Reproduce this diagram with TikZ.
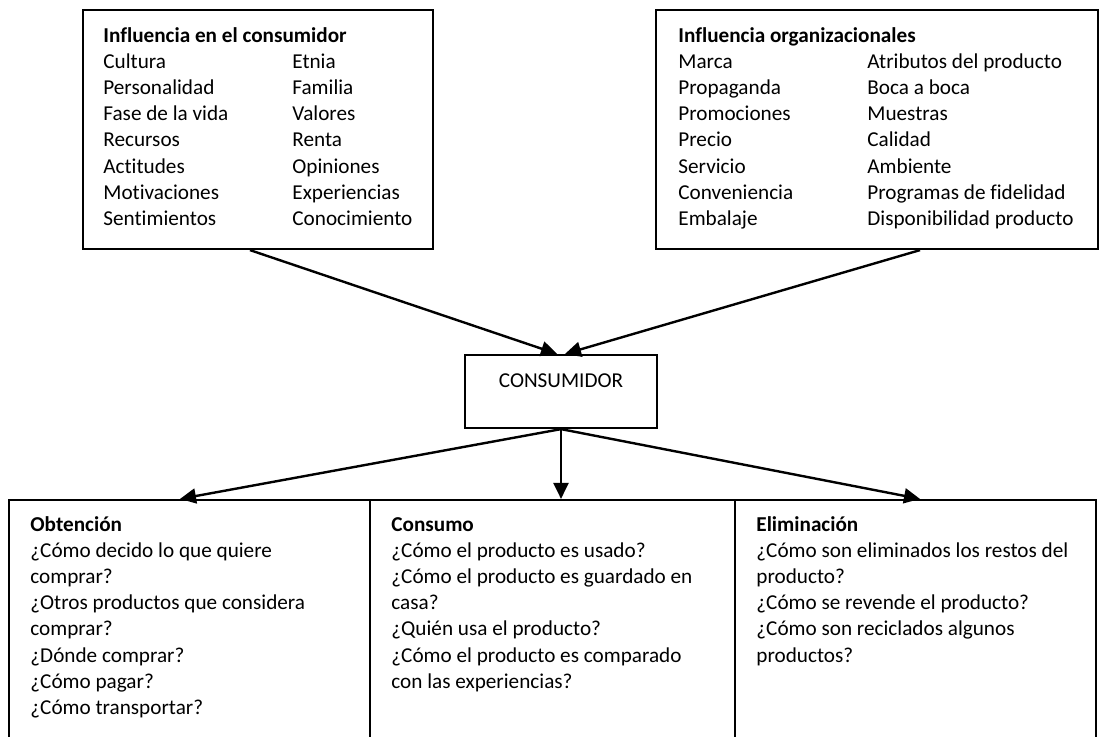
\documentclass[tikz,border=0pt]{standalone}
\usepackage{fontspec}
\setmainfont{Carlito}[RawFeature={-liga}]
\usetikzlibrary{arrows.meta}
\tikzstyle{caja}=[rectangle,draw,line width=1.1pt,inner sep=0pt]
\tikzstyle{linea}=[anchor=base west,inner sep=0pt,font=\fontsize{10.6}{12}\selectfont]
\tikzstyle{titulo}=[linea,font=\fontsize{10.6}{12}\selectfont\bfseries]
\tikzstyle{flecha}=[line width=1.2pt,-{Triangle[length=8pt,width=7.5pt]}]

\begin{document}
\begin{tikzpicture}[x=0.5pt,y=-0.5pt]
	\useasboundingbox (0,0) rectangle (1102,736);

	% cajas superiores
	\node[caja,minimum width=175pt,minimum height=119.5pt] (infcons) at (258,129.5) {};
	\node[caja,minimum width=221pt,minimum height=119.5pt] (inforg) at (877,129.5) {};

	\node[titulo] (tcons) at (103,42) {Influencia en el consumidor};
	\foreach \t [count=\i] in {Cultura,Personalidad,Fase de la vida,Recursos,Actitudes,Motivaciones,Sentimientos}
		\node[linea] (ca\i) at (103,{42+26.2*\i}) {\t};
	\foreach \t [count=\i] in {Etnia,Familia,Valores,Renta,Opiniones,Experiencias,Conocimiento}
		\node[linea] (cb\i) at (292,{42+26.2*\i}) {\t};

	\node[titulo] (torg) at (678,42) {Influencia organizacionales};
	\foreach \t [count=\i] in {Marca,Propaganda,Promociones,Precio,Servicio,Conveniencia,Embalaje}
		\node[linea] (oa\i) at (678,{42+26.2*\i}) {\t};
	\foreach \t [count=\i] in {Atributos del producto,Boca a boca,Muestras,Calidad,Ambiente,Programas de fidelidad,Disponibilidad producto}
		\node[linea] (ob\i) at (867,{42+26.2*\i}) {\t};

	% consumidor
	\node[caja,minimum width=96pt,minimum height=36.5pt] (cons) at (561,391.5) {};
	\node[linea,anchor=base] (tconsumidor) at (561,387) {CONSUMIDOR};

	% cajas inferiores
	\node[caja,minimum width=180.5pt,minimum height=140pt] (obt) at (189.5,640) {};
	\node[caja,minimum width=182.5pt,minimum height=140pt] (consumo) at (552.5,640) {};
	\node[caja,minimum width=180.5pt,minimum height=140pt] (elim) at (915.5,640) {};

	\node[titulo] (tobt) at (30,531) {Obtención};
	\foreach \t [count=\i] in {¿Cómo decido lo que quiere,comprar?,¿Otros productos que considera,comprar?,¿Dónde comprar?,¿Cómo pagar?,¿Cómo transportar?}
		\node[linea] (ob\i) at (30,{531+26.2*\i}) {\t};

	\node[titulo] (tconsumo) at (391,531) {Consumo};
	\foreach \t [count=\i] in {¿Cómo el producto es usado?,¿Cómo el producto es guardado en,casa?,¿Quién usa el producto?,¿Cómo el producto es comparado,con las experiencias?}
		\node[linea] (cu\i) at (391,{531+26.2*\i}) {\t};

	\node[titulo] (telim) at (756,531) {Eliminación};
	\foreach \t [count=\i] in {¿Cómo son eliminados los restos del,producto?,¿Cómo se revende el producto?,¿Cómo son reciclados algunos,productos?}
		\node[linea] (el\i) at (756,{531+26.2*\i}) {\t};

	% flechas
	\draw[flecha] ([xshift=-4pt]infcons.south) -- ([xshift=-2pt]cons.north);
	\draw[flecha] ([xshift=21.5pt]inforg.south) -- ([xshift=2pt]cons.north);
	\draw[flecha] (cons.south) -- ([xshift=-4.75pt]obt.north);
	\draw[flecha] (cons.south) -- (cons.south |- consumo.north);
	\draw[flecha] (cons.south) -- ([xshift=2.25pt]elim.north);
\end{tikzpicture}
\end{document}
